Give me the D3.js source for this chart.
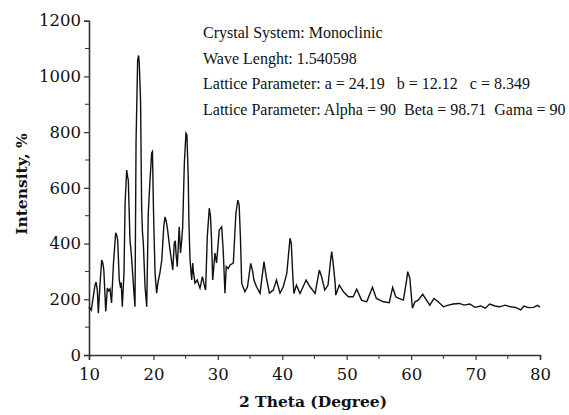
<!DOCTYPE html>
<html>
<head>
<meta charset="utf-8">
<script src="https://cdn.jsdelivr.net/npm/d3@7"></script>
<style>
  html, body { margin: 0; padding: 0; background: #fff; }
  svg { display: block; }
</style>
</head>
<body>
<svg id="chart" width="569" height="415"></svg>
<script>
// XRD pattern: diffraction angle (2θ, degrees) and measured intensity
const twoTheta = [
  10.0, 10.35, 10.6, 10.93, 11.1, 11.3, 11.45, 11.7, 11.97, 12.15, 12.3, 12.6, 12.85, 13.05, 13.26, 13.5,
  13.8, 14.14, 14.3, 14.45, 14.7, 14.9, 15.0, 15.17, 15.43, 15.6, 15.85, 16.0, 16.1, 16.36, 16.6, 16.98,
  17.14, 17.3, 17.55, 17.7, 17.8, 18.0, 18.17, 18.3, 18.43, 18.7, 18.96, 19.2, 19.47, 19.73, 19.85, 20.0,
  20.1, 20.25, 20.5, 20.7, 21.0, 21.3, 21.6, 21.8, 22.0, 22.2, 22.57, 22.8, 23.0, 23.24, 23.4, 23.5,
  23.7, 24.0, 24.2, 24.35, 24.54, 24.8, 25.05, 25.2, 25.4, 25.5, 25.68, 25.94, 26.1, 26.2, 26.45, 26.8,
  27.0, 27.23, 27.6, 27.9, 28.1, 28.36, 28.67, 28.85, 29.0, 29.2, 29.55, 29.8, 30.22, 30.6, 30.85, 31.1,
  31.3, 31.6, 31.9, 32.4, 32.8, 33.1, 33.3, 33.5, 33.7, 34.2, 34.6, 35.1, 35.4, 35.6, 36.0, 36.55,
  37.16, 37.5, 38.0, 38.6, 39.1, 39.65, 40.15, 40.7, 41.2, 41.4, 41.6, 41.8, 42.2, 42.75, 43.7, 44.3,
  45.1, 45.75, 46.1, 46.6, 47.1, 47.5, 47.67, 47.9, 48.2, 48.3, 48.85, 49.5, 50.25, 51.0, 51.55, 52.3,
  53.1, 54.0, 54.6, 55.7, 56.6, 57.13, 57.6, 58.1, 58.8, 59.3, 59.47, 59.8, 60.2, 60.6, 61.1, 61.8,
  62.3, 62.9, 63.55, 64.2, 65.0, 65.8, 66.5, 67.5, 68.2, 69.1, 69.9, 70.8, 71.5, 72.2, 73.0, 73.7,
  74.6, 75.4, 76.2, 77.0, 77.5, 78.2, 79.0, 79.6, 80.0
];
const intensity = [
  173, 161, 200, 251, 262, 230, 150, 250, 341, 330, 305, 156, 240, 230, 237, 187,
  330, 439, 430, 413, 269, 241, 260, 173, 294, 545, 664, 640, 628, 413, 353, 222,
  173, 760, 1059, 1075, 1048, 915, 532, 440, 402, 245, 173, 509, 628, 725, 730, 532,
  430, 294, 222, 260, 294, 341, 460, 496, 480, 449, 377, 340, 305, 402, 410, 366,
  317, 460, 366, 400, 460, 689, 796, 790, 640, 485, 341, 269, 330, 300, 258, 269,
  255, 240, 281, 250, 233, 425, 527, 500, 425, 269, 366, 330, 449, 460, 366, 222,
  317, 310, 323, 330, 509, 556, 540, 425, 257, 227, 245, 329, 300, 269, 245, 222,
  335, 281, 222, 233, 269, 222, 245, 293, 419, 400, 300, 221, 251, 221, 269, 245,
  221, 305, 281, 233, 251, 340, 371, 329, 260, 215, 251, 227, 209, 209, 236, 197,
  191, 243, 203, 191, 188, 243, 209, 203, 197, 270, 299, 275, 168, 191, 197, 218,
  200, 179, 203, 191, 173, 179, 183, 185, 179, 183, 171, 176, 168, 183, 176, 173,
  179, 173, 171, 162, 176, 170, 171, 178, 172
];

// Axis ticks
const xTicks = [10, 20, 30, 40, 50, 60, 70, 80];
const xMinorTicks = [15, 25, 35, 45, 55, 65, 75];
const yTicks = [0, 200, 400, 600, 800, 1000, 1200];
const yMinorTicks = [100, 300, 500, 700, 900, 1100];

// Annotation text
const infoLines = [
  "Crystal System: Monoclinic",
  "Wave Lenght: 1.540598",
  "Lattice Parameter: a = 24.19   b = 12.12   c = 8.349",
  "Lattice Parameter: Alpha = 90  Beta = 98.71  Gama = 90"
];

const svg = d3.select("#chart");
const plotLeft = 89, plotRight = 540, plotTop = 20.7, plotBottom = 355;

const x = d3.scaleLinear().domain([10, 80]).range([plotLeft, plotRight]);
const y = d3.scaleLinear().domain([0, 1200]).range([plotBottom, plotTop]);

const tickFont = "'DejaVu Serif', serif";

// x axis
const gx = svg.append("g").attr("transform", `translate(0,${plotBottom})`);
gx.call(d3.axisBottom(x).tickValues(xTicks).tickSize(5).tickPadding(4).tickFormat(d3.format("d")));
gx.append("g").selectAll("line").data(xMinorTicks).join("line")
  .attr("x1", d => x(d)).attr("x2", d => x(d)).attr("y1", 0).attr("y2", 4)
  .attr("stroke", "#333");

// y axis
const gy = svg.append("g").attr("transform", `translate(${plotLeft},0)`);
gy.call(d3.axisLeft(y).tickValues(yTicks).tickSize(5).tickPadding(3).tickFormat(d3.format("d")));
gy.append("g").selectAll("line").data(yMinorTicks).join("line")
  .attr("x1", 0).attr("x2", -4).attr("y1", d => y(d)).attr("y2", d => y(d))
  .attr("stroke", "#333");

[gx, gy].forEach(g => {
  g.select(".domain").attr("stroke", "#333").attr("stroke-width", 1.6);
  g.selectAll(".tick line").attr("stroke", "#333").attr("stroke-width", 1.2);
  g.selectAll(".tick text")
    .attr("fill", "#111")
    .style("font-family", tickFont)
    .style("font-size", "16.5px");
});
gx.selectAll(".tick text").attr("dy", "0.95em");

// diffraction trace
const points = twoTheta.map((t, i) => [t, intensity[i]]);
svg.append("path")
  .datum(points)
  .attr("fill", "none")
  .attr("stroke", "#111")
  .attr("stroke-width", 1.4)
  .attr("stroke-linejoin", "miter")
  .attr("d", d3.line().x(d => x(d[0])).y(d => y(d[1])));

// axis titles
svg.append("text")
  .attr("x", 313).attr("y", 407)
  .attr("text-anchor", "middle")
  .style("font-family", tickFont)
  .style("font-weight", "bold")
  .style("font-size", "15.5px")
  .attr("fill", "#111")
  .text("2 Theta (Degree)");

svg.append("text")
  .attr("transform", "translate(27,184) rotate(-90)")
  .attr("text-anchor", "middle")
  .style("font-family", tickFont)
  .style("font-weight", "bold")
  .style("font-size", "15.5px")
  .attr("fill", "#111")
  .text("Intensity, %");

// crystal data block
svg.append("g").selectAll("text").data(infoLines).join("text")
  .attr("x", 203)
  .attr("y", (d, i) => 38 + i * 25.5)
  .style("font-family", "'Liberation Serif', serif")
  .style("font-size", "16px")
  .style("white-space", "pre")
  .attr("fill", "#111")
  .text(d => d);
</script>
</body>
</html>
